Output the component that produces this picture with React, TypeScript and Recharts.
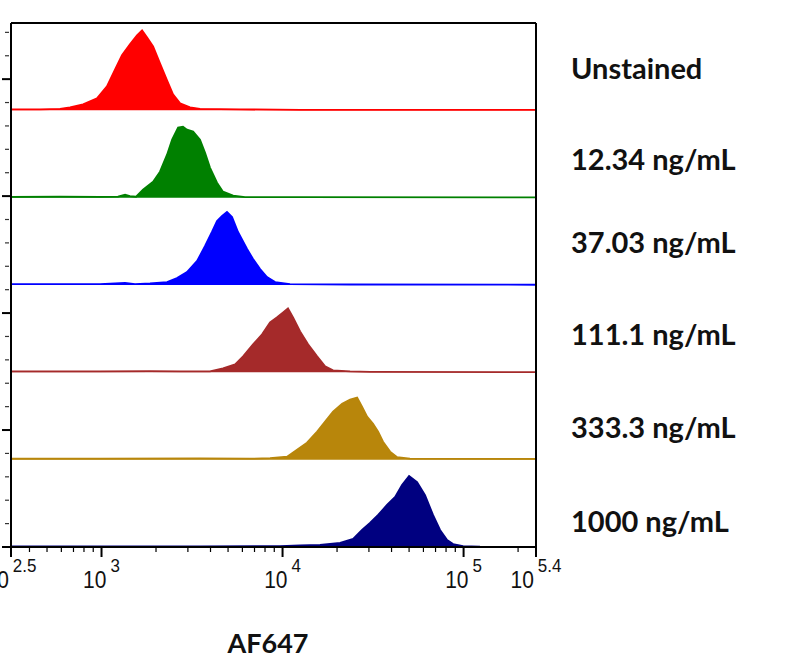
import React from "react";
import { ComposedChart, Area, XAxis, YAxis } from "recharts";

// x values are log10(AF647 intensity); y values are % of lane height (normalised count)
const unstained: [number, number][] = [
  [2.5, 1.1], [2.66, 1.1], [2.771, 1.7], [2.826, 3.4], [2.898, 6.9], [2.975, 13.7], [3.03, 27.5],
  [3.075, 47], [3.113, 63], [3.157, 75.6], [3.196, 85.9], [3.224, 91.6], [3.251, 83.6], [3.285, 73.3],
  [3.323, 53.8], [3.362, 34.4], [3.395, 18.3], [3.434, 8], [3.489, 3.4], [3.544, 1.7], [3.765, 1.1],
  [4.097, 0.6], [4.649, 0.6], [5.4, 0.6],
];
const c12_34: [number, number][] = [
  [2.5, 0.9], [2.771, 1.1], [2.992, 0.9], [3.091, 1.1], [3.13, 3.4], [3.157, 1.7], [3.191, 1.1],
  [3.229, 9.2], [3.285, 18.3], [3.323, 29.8], [3.362, 49.2], [3.39, 66.4], [3.423, 80.2], [3.45, 81.3],
  [3.472, 77.9], [3.506, 75.6], [3.544, 66.4], [3.572, 51.5], [3.599, 34.4], [3.638, 17.2], [3.671, 6.9],
  [3.727, 2.3], [3.793, 0.6], [4.097, 0.6], [5.4, 0.3],
];
const c37_03: [number, number][] = [
  [2.5, 1.1], [2.771, 1.1], [2.992, 1.1], [3.13, 2.3], [3.185, 1.1], [3.268, 1.7], [3.362, 3.4],
  [3.417, 8], [3.472, 14.9], [3.528, 27.5], [3.572, 44.7], [3.61, 60.7], [3.638, 73.3], [3.666, 79],
  [3.693, 83.6], [3.721, 77.9], [3.754, 60.7], [3.804, 41.2], [3.837, 29.8], [3.876, 18.3], [3.914, 9.2],
  [3.959, 3.4], [4.041, 1.1], [4.373, 0.6], [5.4, 0.3],
];
const c111_1: [number, number][] = [
  [2.5, 1.1], [2.992, 1.1], [3.268, 1.4], [3.434, 1.1], [3.599, 1.1], [3.671, 4.6], [3.738, 9.2],
  [3.782, 18.3], [3.837, 32.1], [3.887, 43.5], [3.931, 57.3], [3.97, 63], [4.003, 68.7], [4.03, 73.3],
  [4.058, 63], [4.097, 46.9], [4.141, 32.1], [4.191, 18.3], [4.235, 6.9], [4.279, 2.3], [4.373, 1.1],
  [4.483, 0.6], [5.4, 0.3],
];
const c333_3: [number, number][] = [
  [2.5, 1.1], [2.992, 1.1], [3.544, 1.4], [3.82, 1.1], [3.931, 1.7], [4.025, 3.4], [4.08, 11.5],
  [4.135, 19.5], [4.191, 32.1], [4.235, 43.5], [4.279, 55], [4.329, 64.1], [4.373, 68.7], [4.412, 71],
  [4.439, 60.7], [4.467, 49.2], [4.5, 41.2], [4.528, 32.1], [4.555, 20.6], [4.594, 9.2], [4.633, 2.9],
  [4.704, 1.1], [5.4, 0.9],
];
const c1000: [number, number][] = [
  [2.5, 0.6], [2.992, 0.8], [3.544, 0.8], [3.986, 1.1], [4.097, 1.7], [4.207, 2.3], [4.318, 4.6],
  [4.39, 9.2], [4.439, 19.5], [4.483, 27.5], [4.528, 36.7], [4.577, 48.1], [4.622, 57.3], [4.66, 71],
  [4.699, 81.3], [4.743, 74.4], [4.787, 59.5], [4.831, 36.7], [4.87, 19.5], [4.909, 8], [4.942, 3.4],
  [4.997, 1.1], [5.091, 0.3], [5.4, 0],
];

const sampleLabels = ["Unstained", "12.34 ng/mL", "37.03 ng/mL", "111.1 ng/mL", "333.3 ng/mL", "1000 ng/mL"];
const sampleSeries = [unstained, c12_34, c37_03, c111_1, c333_3, c1000];

// axis ticks
const majorTickExponents = [2.5, 3, 4, 5, 5.4];
const majorTickLabels = ["2.5", "3", "4", "5", "5.4"];
const minorTickIntensities = [
  400, 500, 600, 700, 800, 900,
  2000, 3000, 4000, 5000, 6000, 7000, 8000, 9000,
  20000, 30000, 40000, 50000, 60000, 70000, 80000, 90000,
  200000,
];
const yTickValues = [0, 1, 2, 3, 4, 5, 6, 7, 8, 9, 10, 11, 12, 13, 14, 15, 16, 17, 18, 19, 20, 21, 22];

// styles
const colors = ["#FF0000", "#008000", "#0000FF", "#A52A2A", "#B8860B", "#000080"];
const labelBaselines = [79, 170, 253, 345, 438, 532];

const W = 803;
const H = 671;
const margin = { top: 22, right: 266, bottom: 123, left: 10 };

const xTicks = [...majorTickExponents, ...minorTickIntensities.map((v) => Math.log10(v))].sort((a, b) => a - b);

function XTick(props: any) {
  const { x, y, payload } = props;
  const idx = majorTickExponents.findIndex((m) => Math.abs(m - payload.value) < 1e-9);
  const major = idx >= 0;
  return (
    <g>
      <line x1={x} x2={x} y1={y} y2={y + (major ? 10 : 5)} stroke="#000" strokeWidth={major ? 2 : 1.2} />
      {major && (
        <g transform={`translate(${x}, ${y + 41}) scale(1, 1.12)`}>
          <text x={0} y={0} textAnchor="middle" fontFamily="'Liberation Sans', Arial, sans-serif" fontSize={21} fill="#111">
            10
            <tspan dx={4} dy={-14} fontSize={17}>
              {majorTickLabels[idx]}
            </tspan>
          </text>
        </g>
      )}
    </g>
  );
}

function YTick(props: any) {
  const { x, y, payload } = props;
  const major = payload.value % 5 === 0;
  return major ? (
    <line x1={x - 9} x2={x} y1={y} y2={y} stroke="#000" strokeWidth={2} />
  ) : (
    <line x1={x - 6} x2={x - 2} y1={y} y2={y} stroke="#333" strokeWidth={1.2} />
  );
}

export default function App() {
  const lanes = sampleSeries.length;
  return (
    <div style={{ position: "absolute", left: 0, top: 0, width: W, height: H, background: "#fff" }}>
      <ComposedChart width={W} height={H} margin={margin}>
        <XAxis
          xAxisId="x"
          type="number"
          dataKey="e"
          domain={[2.5, 5.4]}
          allowDataOverflow
          ticks={xTicks}
          interval={0}
          tickSize={0}
          tickMargin={0}
          tickLine={false}
          tick={<XTick />}
          axisLine={{ stroke: "#000", strokeWidth: 2 }}
          height={1}
        />
        <XAxis
          xAxisId="top"
          orientation="top"
          type="number"
          domain={[2.5, 5.4]}
          tick={false}
          tickLine={false}
          axisLine={{ stroke: "#000", strokeWidth: 2 }}
          height={1}
        />
        <YAxis
          yAxisId="frame"
          type="number"
          domain={[0, 22.4]}
          allowDataOverflow
          ticks={yTickValues}
          interval={0}
          tickSize={0}
          tickMargin={0}
          tickLine={false}
          tick={<YTick />}
          axisLine={{ stroke: "#000", strokeWidth: 2 }}
          width={1}
        />
        <YAxis
          yAxisId="right"
          orientation="right"
          type="number"
          domain={[0, 1]}
          tick={false}
          tickLine={false}
          axisLine={{ stroke: "#000", strokeWidth: 2 }}
          width={1}
        />
        {sampleSeries.map((_, i) => (
          <YAxis
            key={`ya${i}`}
            yAxisId={`lane${i}`}
            type="number"
            hide
            domain={[-(lanes - 1 - i) * 100, (i + 1) * 100]}
            allowDataOverflow
          />
        ))}
        {sampleSeries.map((pts, i) => (
          <Area
            key={`ar${i}`}
            name={sampleLabels[i]}
            data={pts.map(([e, c]) => ({ e, c }))}
            dataKey="c"
            xAxisId="x"
            yAxisId={`lane${i}`}
            type="linear"
            baseValue={0}
            stroke={colors[i]}
            strokeWidth={1.8}
            fill={colors[i]}
            fillOpacity={1}
            dot={false}
            activeDot={false}
            isAnimationActive={false}
          />
        ))}
      </ComposedChart>
      <svg width={W} height={H} style={{ position: "absolute", left: 0, top: 0, pointerEvents: "none" }}>
        {sampleLabels.map((t, i) => (
          <text key={t} x={571} y={labelBaselines[i]} fontFamily="Lato, 'Noto Sans', sans-serif" fontWeight={700} fontSize={29} fill="#111">
            {t}
          </text>
        ))}
        <text x={268} y={653} textAnchor="middle" fontFamily="Lato, 'Noto Sans', sans-serif" fontWeight={700} fontSize={27} fill="#111">
          AF647
        </text>
      </svg>
    </div>
  );
}
